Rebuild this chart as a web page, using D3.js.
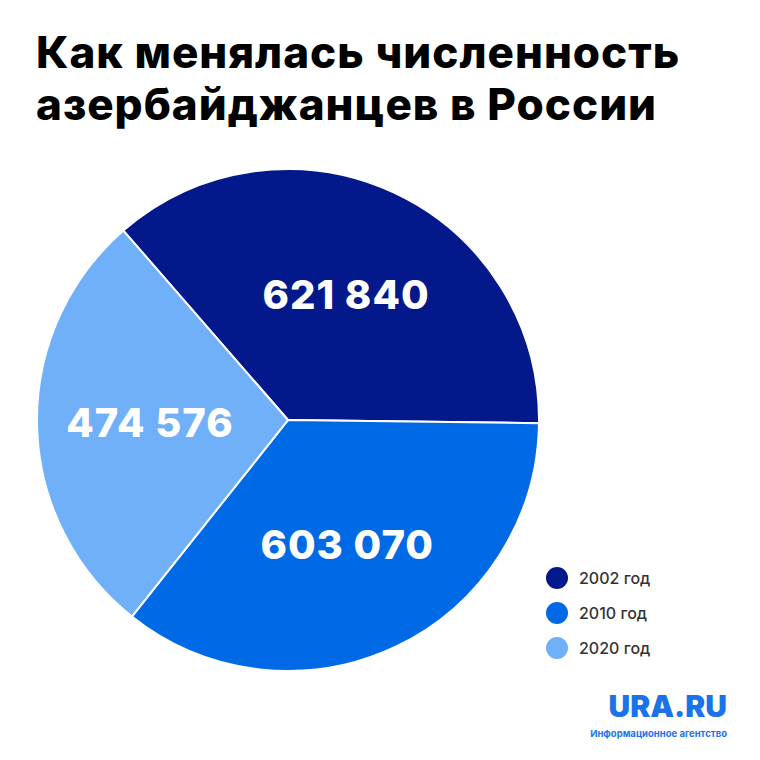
<!DOCTYPE html>
<html><head><meta charset="utf-8">
<script src="https://cdn.jsdelivr.net/npm/d3@7"></script>
<style>body{margin:0;background:#fff}</style>
</head><body>
<script>
// data
var years = ['2002 год', '2010 год', '2020 год'];
var values = [621840, 603070, 474576];
var labels = ['621 840', '603 070', '474 576'];
var colors = ['#03188a', '#0069e6', '#6fb0f9'];

var svg = d3.select('body').append('svg').attr('width', 760).attr('height', 760);

// title
svg.append('text').attr('x', 36).attr('y', 68)
   .style('font', '800 44px Inter').style('letter-spacing', '1px').style('fill', '#000').text('Как менялась численность');
svg.append('text').attr('x', 36).attr('y', 120)
   .style('font', '800 44px Inter').style('letter-spacing', '1px').style('fill', '#000').text('азербайджанцев в России');

// pie
var cx = 288, cy = 420, r = 251;
var start = -41 * Math.PI / 180;
var pie = d3.pie().sort(null).startAngle(start).endAngle(start + 2 * Math.PI);
var arcs = pie(values);
var arc = d3.arc().innerRadius(0).outerRadius(r);
var g = svg.append('g').attr('transform', `translate(${cx},${cy})`);

g.selectAll('path').data(arcs).enter().append('path')
 .attr('d', arc).attr('fill', (d, i) => colors[i])
 .attr('stroke', '#fff').attr('stroke-width', 2);

var labelArc = d3.arc().innerRadius(r * 0.55).outerRadius(r * 0.55);
g.selectAll('.lbl').data(arcs).enter().append('text')
 .attr('x', d => labelArc.centroid(d)[0]).attr('y', d => labelArc.centroid(d)[1])
 .attr('text-anchor', 'middle').attr('dy', '0.35em')
 .style('font', '800 40px Inter').style('letter-spacing', '1px').style('fill', '#fff')
 .text((d, i) => labels[i]);

// legend
var leg = svg.selectAll('.leg').data(years).enter().append('g')
   .attr('transform', (d, i) => `translate(557,${578 + i * 35})`);
leg.append('circle').attr('r', 11).attr('fill', (d, i) => colors[i]);
leg.append('text').attr('x', 22).attr('dy', '0.35em')
   .style('font', '500 16px Inter').style('fill', '#333').text(d => d);

// logo
svg.append('text').attr('x', 727).attr('y', 717).attr('text-anchor', 'end')
   .style('font', '900 30px Inter').style('fill', '#1a73e8').text('URA.RU');
svg.append('text').attr('x', 727).attr('y', 737).attr('text-anchor', 'end')
   .style('font', '700 9.5px Inter').style('fill', '#1a73e8').text('Информационное агентство');
</script>
</body></html>
